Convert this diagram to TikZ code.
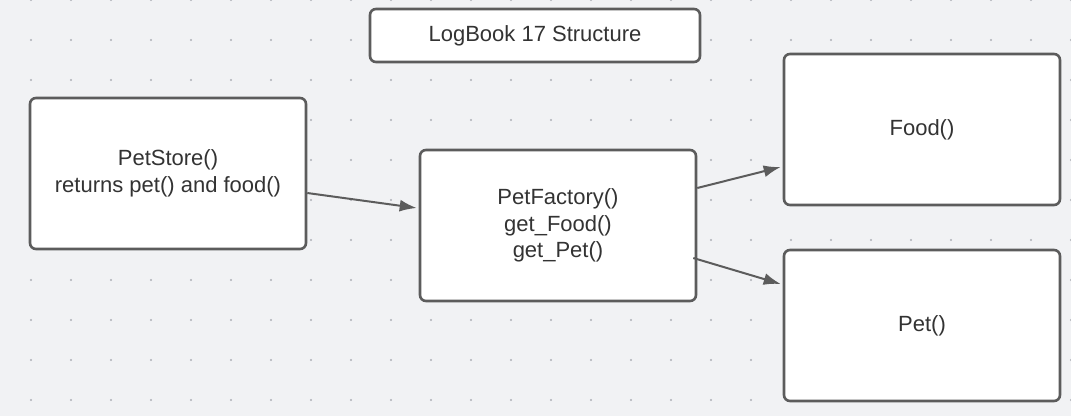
\documentclass[tikz,border=0pt]{standalone}
\usepackage{xcolor}
\usepackage{fontspec}
\setmainfont{Liberation Sans}
\usetikzlibrary{arrows.meta}
\definecolor{bggray}{HTML}{F1F2F4}
\definecolor{boxgray}{HTML}{5C5C5C}
\definecolor{txtgray}{HTML}{333333}
\definecolor{dotgray}{HTML}{AEB0B6}

\begin{document}
\begin{tikzpicture}[x=1pt, y=-1pt,
		box/.style={draw=boxgray, line width=2.6pt, rounded corners=6pt, fill=white,
			text=txtgray, align=center, font=\fontsize{22}{26.5}\selectfont,
			minimum width=276pt, minimum height=151pt, inner sep=0pt},
		link/.style={draw=boxgray, line width=2pt, -{Latex[length=17pt, width=12pt]}}]
		% Background and grid dots
		\fill[bggray] (0, 0) rectangle (1071, 416);
		\useasboundingbox (0, 0) rectangle (1071, 416);
		\foreach \i in {0,...,26} {
			\foreach \j in {0,...,10} {
				\fill[dotgray] (31+40*\i, 40*\j) circle (1.1pt);
			}
		}
		%
		\node[box, minimum width=330pt, minimum height=53pt] (title) at (535, 35.5) {LogBook 17 Structure};
		%
		\node[box] (store) at (168, 173.5) {PetStore()\\returns pet() and food()};
		\node[box] (factory) at (558, 225.5) {PetFactory()\\get\_Food()\\get\_Pet()};
		\node[box] (food) at (922, 129.5) {Food()};
		\node[box] (pet) at (922, 325.5) {Pet()};
		% Drawing the edges
		\draw[link] ([yshift=-19.5pt]store.east) to ([yshift=17.5pt, xshift=-2pt]factory.west);
		\draw[link] ([yshift=37.5pt]factory.east) to ([yshift=-37.5pt, xshift=-2pt]food.west);
		\draw[link] ([yshift=-32.5pt, xshift=-4pt]factory.east) to ([yshift=41.5pt, xshift=-2pt]pet.west);
	\end{tikzpicture}
\end{document}
